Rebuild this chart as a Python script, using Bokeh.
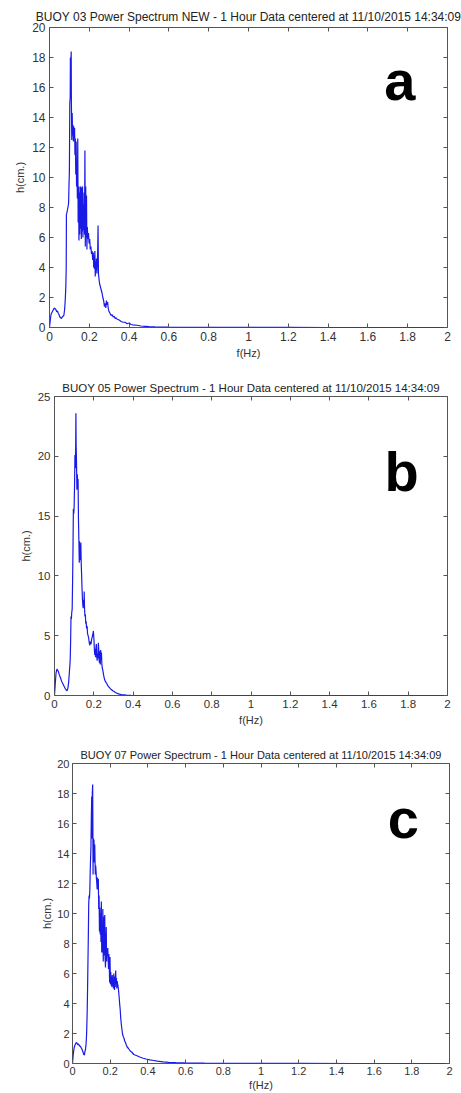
from bokeh.plotting import figure
from bokeh.models import Range1d, LinearAxis, FixedTicker, CustomJSTickFormatter, Label
from bokeh.embed import file_html
from bokeh.resources import INLINE

FONT = "Liberation Sans"

title_a = "BUOY 03 Power Spectrum NEW - 1 Hour Data centered at 11/10/2015 14:34:09"
title_b = "BUOY 05 Power Spectrum - 1 Hour Data centered at 11/10/2015 14:34:09"
title_c = "BUOY 07 Power Spectrum - 1 Hour Data centered at 11/10/2015 14:34:09"

x_ticks = [0, 0.2, 0.4, 0.6, 0.8, 1.0, 1.2, 1.4, 1.6, 1.8, 2.0]
y_ticks_a = [0, 2, 4, 6, 8, 10, 12, 14, 16, 18, 20]
y_ticks_b = [0, 5, 10, 15, 20, 25]
y_ticks_c = [0, 2, 4, 6, 8, 10, 12, 14, 16, 18, 20]

# ---- BUOY 03 ----
freq_a = [0, 0.004, 0.008, 0.012, 0.016, 0.020, 0.024, 0.028, 0.032, 0.036,
          0.040, 0.044, 0.048, 0.052, 0.056, 0.060, 0.064, 0.068, 0.072, 0.076,
          0.079, 0.082, 0.084, 0.085, 0.088, 0.091, 0.094, 0.096, 0.098, 0.100,
          0.102, 0.104, 0.105, 0.107, 0.109, 0.110, 0.112, 0.114, 0.116, 0.118,
          0.120, 0.122, 0.124, 0.126, 0.128, 0.130, 0.132, 0.134, 0.136, 0.138,
          0.140, 0.142, 0.144, 0.146, 0.148, 0.150, 0.152, 0.154, 0.156, 0.158,
          0.160, 0.162, 0.164, 0.166, 0.168, 0.170, 0.172, 0.174, 0.176, 0.178,
          0.180, 0.182, 0.184, 0.186, 0.188, 0.190, 0.193, 0.196, 0.199, 0.202,
          0.205, 0.208, 0.211, 0.214, 0.217, 0.220, 0.222, 0.224, 0.226, 0.228,
          0.230, 0.232, 0.234, 0.236, 0.238, 0.240, 0.242, 0.244, 0.246, 0.249,
          0.252, 0.256, 0.260, 0.264, 0.268, 0.272, 0.276, 0.280, 0.283, 0.286,
          0.289, 0.292, 0.295, 0.298, 0.302, 0.306, 0.310, 0.315, 0.320, 0.325,
          0.330, 0.335, 0.340, 0.350, 0.360, 0.370, 0.380, 0.390, 0.400, 0.410,
          0.420, 0.440, 0.460, 0.480, 0.500, 0.530, 0.560, 0.600, 0.700, 0.800,
          1.0, 1.2, 1.4, 1.6, 1.8, 2.0]
h_a = [0, 0.5, 0.9, 1.0, 1.1, 1.2, 1.3, 1.25, 1.2, 1.05,
       1.1, 0.95, 0.85, 0.7, 0.65, 0.6, 0.7, 0.75, 0.8, 1.2,
       1.8, 2.7, 4.0, 7.5, 7.7, 7.9, 8.1, 8.3, 9.5, 10.4,
       15.0, 15.3, 18.0, 17.4, 18.4, 15.0, 12.5, 14.3, 12.8, 13.5,
       12.4, 13.4, 12.6, 13.3, 11.5, 12.6, 10.2, 12.4, 9.4, 11.0,
       8.6, 12.6, 7.0, 9.4, 5.8, 9.0, 6.2, 9.4, 6.6, 9.4,
       5.9, 9.3, 6.4, 9.4, 6.0, 8.2, 6.5, 9.0, 6.2, 11.8,
       5.4, 9.4, 6.0, 8.8, 5.2, 6.7, 5.9, 6.3, 5.6, 5.9,
       5.2, 5.4, 4.9, 5.1, 4.5, 5.0, 4.0, 4.8, 3.9, 5.1,
       3.4, 4.4, 3.8, 4.6, 3.6, 4.2, 5.0, 6.8, 3.6, 3.2,
       2.9, 2.7, 2.5, 2.3, 2.0, 1.8, 1.4, 1.6, 1.3, 1.8,
       1.5, 1.7, 1.3, 1.1, 1.0, 0.9, 0.8, 0.85, 0.7, 0.75,
       0.6, 0.65, 0.55, 0.5, 0.4, 0.35, 0.35, 0.25, 0.3, 0.2,
       0.18, 0.15, 0.1, 0.08, 0.06, 0.04, 0.03, 0.02, 0.01, 0.01,
       0.005, 0.005, 0, 0, 0, 0]

# ---- BUOY 05 ----
freq_b = [0, 0.004, 0.008, 0.012, 0.016, 0.020, 0.025, 0.030, 0.036, 0.042,
          0.048, 0.054, 0.060, 0.064, 0.068, 0.072, 0.076, 0.080, 0.082, 0.084,
          0.086, 0.088, 0.090, 0.092, 0.094, 0.096, 0.098, 0.100, 0.102, 0.104,
          0.106, 0.107, 0.108, 0.109, 0.110, 0.112, 0.114, 0.116, 0.118, 0.120,
          0.122, 0.124, 0.126, 0.127, 0.129, 0.130, 0.132, 0.134, 0.136, 0.138,
          0.140, 0.142, 0.144, 0.146, 0.148, 0.150, 0.151, 0.153, 0.155, 0.157,
          0.159, 0.161, 0.163, 0.166, 0.168, 0.171, 0.174, 0.177, 0.180, 0.183,
          0.186, 0.189, 0.192, 0.195, 0.198, 0.201, 0.203, 0.205, 0.207, 0.209,
          0.211, 0.213, 0.215, 0.217, 0.219, 0.221, 0.223, 0.225, 0.227, 0.229,
          0.231, 0.233, 0.235, 0.237, 0.239, 0.241, 0.243, 0.246, 0.250, 0.254,
          0.258, 0.262, 0.266, 0.270, 0.275, 0.280, 0.285, 0.290, 0.296, 0.302,
          0.310, 0.320, 0.330, 0.340, 0.355, 0.370, 0.390, 0.450, 0.600, 1.0,
          1.5, 2.0]
h_b = [0, 1.0, 1.9, 2.2, 2.1, 2.0, 1.7, 1.5, 1.2, 1.0,
       0.8, 0.6, 0.45, 0.4, 0.6, 1.1, 2.0, 3.0, 4.5, 6.6,
       6.4, 7.0, 7.2, 9.5, 12.0, 15.6, 15.2, 15.8, 17.5, 20.1,
       19.5, 19.0, 21.5, 23.6, 21.0, 19.5, 17.2, 18.5, 17.8, 18.1,
       14.7, 13.0, 11.1, 12.9, 11.5, 12.2, 11.3, 12.8, 11.0, 10.1,
       9.0, 8.1, 7.6, 7.3, 8.0, 7.4, 8.7, 7.2, 6.6, 6.8,
       6.0, 6.2, 5.6, 5.8, 5.2, 5.0, 4.8, 4.4, 4.2, 4.5,
       4.3, 4.7, 4.9, 5.1, 5.4, 4.6, 3.8, 3.4, 3.9, 3.2,
       4.0, 4.3, 3.3, 2.9, 3.5, 3.1, 4.4, 3.9, 3.0, 2.7,
       3.7, 2.6, 3.8, 3.0, 3.6, 2.6, 2.3, 2.1, 1.7, 1.4,
       1.2, 1.1, 1.0, 0.85, 0.75, 0.65, 0.55, 0.5, 0.4, 0.35,
       0.25, 0.18, 0.12, 0.08, 0.05, 0.02, 0.01, 0, 0, 0,
       0, 0]

# ---- BUOY 07 ----
freq_c = [0, 0.004, 0.008, 0.012, 0.016, 0.020, 0.024, 0.028, 0.032, 0.036,
          0.040, 0.044, 0.048, 0.052, 0.056, 0.060, 0.063, 0.066, 0.069, 0.072,
          0.075, 0.078, 0.080, 0.082, 0.084, 0.086, 0.088, 0.090, 0.092, 0.094,
          0.096, 0.098, 0.100, 0.102, 0.104, 0.105, 0.107, 0.108, 0.109, 0.110,
          0.112, 0.113, 0.114, 0.116, 0.118, 0.119, 0.121, 0.123, 0.125, 0.127,
          0.129, 0.131, 0.133, 0.135, 0.137, 0.139, 0.141, 0.143, 0.145, 0.147,
          0.149, 0.151, 0.153, 0.155, 0.157, 0.159, 0.161, 0.163, 0.165, 0.167,
          0.169, 0.171, 0.173, 0.175, 0.177, 0.179, 0.181, 0.183, 0.185, 0.187,
          0.189, 0.191, 0.193, 0.195, 0.197, 0.199, 0.201, 0.203, 0.205, 0.207,
          0.209, 0.211, 0.213, 0.215, 0.217, 0.219, 0.221, 0.223, 0.225, 0.227,
          0.229, 0.231, 0.233, 0.235, 0.237, 0.239, 0.241, 0.244, 0.247, 0.250,
          0.253, 0.256, 0.259, 0.262, 0.265, 0.269, 0.273, 0.277, 0.281, 0.285,
          0.290, 0.297, 0.305, 0.315, 0.325, 0.335, 0.345, 0.360, 0.375, 0.390,
          0.410, 0.430, 0.450, 0.480, 0.510, 0.550, 0.600, 0.700, 0.800, 1.0,
          1.2, 1.5, 2.0]
h_c = [0, 0.6, 1.0, 1.2, 1.3, 1.4, 1.35, 1.25, 1.3, 1.2,
       1.15, 1.1, 1.0, 0.9, 0.75, 0.6, 0.55, 0.8, 0.95, 1.3,
       2.0, 3.5, 5.0, 6.8, 8.5, 10.6, 11.2, 11.0, 11.6, 12.8,
       13.7, 14.5, 16.5, 17.8, 15.0, 18.0, 18.6, 16.0, 12.6, 14.8,
       15.0, 13.6, 14.9, 13.4, 14.6, 13.9, 12.6, 13.2, 12.8, 12.3,
       12.0, 11.6, 12.4, 11.7, 12.3, 10.3, 11.2, 8.8, 10.4, 8.6,
       10.0, 8.1, 10.8, 7.4, 9.0, 7.4, 10.3, 6.8, 8.2, 9.8,
       7.2, 9.9, 7.0, 6.4, 7.8, 9.1, 6.8, 7.6, 7.2, 7.7,
       7.1, 6.3, 7.3, 6.6, 5.4, 7.1, 5.3, 6.1, 5.2, 5.8,
       5.1, 5.9, 5.2, 5.6, 5.0, 6.0, 5.4, 4.9, 5.8, 5.1,
       6.2, 5.3, 5.7, 5.0, 5.5, 5.3, 5.2, 4.9, 4.5, 4.0,
       3.6, 3.0, 2.6, 2.3, 2.0, 1.8, 1.7, 1.5, 1.4, 1.25,
       1.1, 1.0, 0.85, 0.75, 0.6, 0.55, 0.5, 0.42, 0.35, 0.3,
       0.24, 0.2, 0.16, 0.11, 0.08, 0.06, 0.04, 0.02, 0.01, 0.01,
       0.005, 0, 0]

LINE = "#1a1ae6"
AX = "#555555"
TXT = "#333333"


def make_panel(title, f, h, y_max, y_ticks, letter, lx, ly,
               width, height, left, right, top, bottom,
               title_fs, tick_fs, label_fs, tick_sd, label_sd, title_sd):
    p = figure(width=width, height=height,
               x_range=Range1d(0, 2), y_range=Range1d(0, y_max),
               output_backend="svg", toolbar_location=None, tools="",
               min_border_left=left, min_border_right=right,
               min_border_top=top, min_border_bottom=bottom,
               x_axis_label="f(Hz)", y_axis_label="h(cm.)")
    p.title.text = title
    p.title.align = "center"
    p.title.text_font = FONT
    p.title.text_font_size = f"{title_fs}px"
    p.title.text_font_style = "normal"
    p.title.text_color = "#222222"
    p.title.standoff = title_sd
    p.grid.visible = False
    p.outline_line_color = AX
    p.outline_line_alpha = 1
    p.outline_line_width = 1
    p.background_fill_color = "white"
    p.border_fill_color = "white"
    fmt = CustomJSTickFormatter(code="return Number(tick.toFixed(2)).toString();")
    for ax, ticks in ((p.xaxis[0], x_ticks), (p.yaxis[0], y_ticks)):
        ax.ticker = FixedTicker(ticks=ticks)
        ax.formatter = fmt
        ax.major_tick_in = 4
        ax.major_tick_out = 0
        ax.minor_tick_line_color = None
        ax.axis_line_color = None
        ax.major_tick_line_color = AX
        ax.major_label_text_font = FONT
        ax.major_label_text_font_size = f"{tick_fs}px"
        ax.major_label_text_color = TXT
        ax.major_label_standoff = tick_sd
        ax.axis_label_text_font = FONT
        ax.axis_label_text_font_size = f"{label_fs}px"
        ax.axis_label_text_font_style = "normal"
        ax.axis_label_text_color = TXT
        ax.axis_label_standoff = label_sd
    blank = CustomJSTickFormatter(code="return '';")
    for loc, ticks in (("above", x_ticks), ("right", y_ticks)):
        ax = LinearAxis(ticker=FixedTicker(ticks=ticks), formatter=blank,
                        major_label_text_font_size="1px", major_label_standoff=0,
                        major_tick_in=4, major_tick_out=0,
                        minor_tick_line_color=None, axis_line_color=None,
                        major_tick_line_color=AX)
        p.add_layout(ax, loc)
    p.line(f, h, line_color=LINE, line_width=1.2)
    p.add_layout(Label(x=lx, y=ly, text=letter, text_font=FONT,
                       text_font_size="56px", text_font_style="bold",
                       text_align="center", text_baseline="alphabetic",
                       text_color="black"))
    return p


pa = make_panel(title_a, freq_a, h_a, 20, y_ticks_a, "a", 1.76, 16.45,
                461, 376, 49, 14, 27, 49, 12, 12, 11, 4, 3, 7)
pb = make_panel(title_b, freq_b, h_b, 25, y_ticks_b, "b", 1.766, 18.75,
                461, 368, 54, 14, 20, 49, 11.5, 11.5, 11, 4, 3, 5)
pc = make_panel(title_c, freq_c, h_c, 20, y_ticks_c, "c", 1.755, 16.35,
                461, 349, 72, 12, 19, 30, 11, 11, 11, 3, 1, 5)

open("out.html", "w").write(file_html([pa, pb, pc], INLINE))
